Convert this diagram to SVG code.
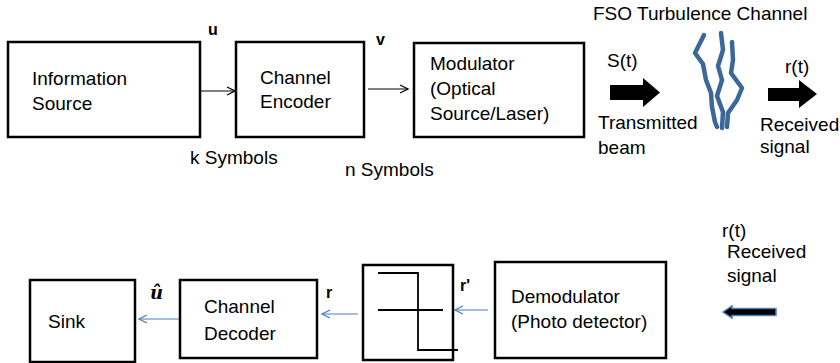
<svg xmlns="http://www.w3.org/2000/svg" width="840" height="363" viewBox="0 0 840 363">
  <defs>
    <style>
      .box { fill: #ffffff; stroke: #000000; stroke-width: 2.5; }
      .lbl { font-family: "Liberation Sans", Arial, sans-serif; font-size: 19px; fill: #000000; }
      .sym { font-family: "Liberation Sans", Arial, sans-serif; font-size: 16px; font-weight: bold; fill: #000000; }
      .wire { fill: none; stroke: #000000; stroke-width: 1.2; }
      .wireb { fill: none; stroke: #4a7fc0; stroke-width: 1.2; }
      .wave { fill: none; stroke: #3b6898; stroke-width: 4.5; stroke-linecap: round; stroke-linejoin: round; }
      .q { fill: none; stroke: #000000; stroke-width: 1.8; }
    </style>
    <marker id="open-k" markerWidth="10" markerHeight="10" refX="9" refY="5" orient="auto" markerUnits="userSpaceOnUse">
      <path d="M1,1 L9,5 L1,9" fill="none" stroke="#000000" stroke-width="1.2"/>
    </marker>
    <marker id="open-b" markerWidth="10" markerHeight="10" refX="9" refY="5" orient="auto" markerUnits="userSpaceOnUse">
      <path d="M1,1 L9,5 L1,9" fill="none" stroke="#4a7fc0" stroke-width="1.2"/>
    </marker>
  </defs>

  <rect width="840" height="363" fill="#ffffff"/>

  <!-- transmitter chain -->
  <g id="info-source">
    <rect class="box" x="8" y="42" width="192" height="95"/>
    <text class="lbl" x="32" y="85">Information</text>
    <text class="lbl" x="32" y="110">Source</text>
  </g>
  <g id="channel-encoder">
    <rect class="box" x="236" y="42" width="128" height="95"/>
    <text class="lbl" x="260" y="84">Channel</text>
    <text class="lbl" x="260" y="108">Encoder</text>
  </g>
  <g id="modulator">
    <rect class="box" x="414" y="43" width="170" height="94"/>
    <text class="lbl" x="430" y="70">Modulator</text>
    <text class="lbl" x="430" y="95">(Optical</text>
    <text class="lbl" x="430" y="120">Source/Laser)</text>
  </g>

  <!-- free-space turbulence -->
  <g id="fso-channel">
    <text class="lbl" x="593" y="20">FSO Turbulence Channel</text>
    <path class="wave" d="M704,35 L695,53 L703,64 L706,80 L711,93 L712,107 L715,122 L717,127"/>
    <path class="wave" d="M721,33 L723,50 L718,66 L722,80 L717,96 L723,112 L722,128"/>
    <path class="wave" d="M732,42 L733,60 L731,73 L742,88 L737,100 L728,113 L727,127"/>
  </g>
  <g id="tx-beam">
    <polygon points="610,85 643,85 643,78 660,92.5 643,107 643,100 610,100" fill="#000000"/>
    <text class="lbl" x="607" y="67">S(t)</text>
    <text class="lbl" x="598" y="129">Transmitted</text>
    <text class="lbl" x="598" y="154">beam</text>
  </g>
  <g id="rx-beam">
    <polygon points="768,88 799,88 799,80 817,94 799,108 799,101 768,101" fill="#000000"/>
    <text class="lbl" x="785" y="73">r(t)</text>
    <text class="lbl" x="760" y="131">Received</text>
    <text class="lbl" x="760" y="153">signal</text>
  </g>

  <!-- receiver chain -->
  <g id="sink">
    <rect class="box" x="30" y="280" width="105" height="82"/>
    <text class="lbl" x="48" y="328">Sink</text>
  </g>
  <g id="channel-decoder">
    <rect class="box" x="180" y="280" width="137" height="78"/>
    <text class="lbl" x="204" y="313">Channel</text>
    <text class="lbl" x="204" y="340">Decoder</text>
  </g>
  <g id="threshold">
    <rect class="box" x="363" y="265" width="90" height="95"/>
    <path class="q" d="M378,273 H418 V350 H458"/>
    <path class="q" d="M378,310 H443"/>
  </g>
  <g id="demodulator">
    <rect class="box" x="495" y="262" width="171" height="96"/>
    <text class="lbl" x="511" y="303">Demodulator</text>
    <text class="lbl" x="511" y="328">(Photo detector)</text>
  </g>
  <g id="rx-input">
    <text class="lbl" x="722" y="237">r(t)</text>
    <text class="lbl" x="727" y="258">Received</text>
    <text class="lbl" x="727" y="282">signal</text>
    <polygon points="723,312 732,306 732,308.5 776,308.5 776,315.5 732,315.5 732,318" fill="#000000" stroke="#4f7fb8" stroke-width="1.5"/>
  </g>

  <!-- connectors -->
  <g id="connectors">
    <line class="wire" x1="200" y1="91" x2="235" y2="91" marker-end="url(#open-k)"/>
    <line class="wire" x1="368" y1="89" x2="408" y2="89" marker-end="url(#open-k)"/>
    <line class="wireb" x1="488" y1="310" x2="455" y2="310" marker-end="url(#open-b)"/>
    <line class="wireb" x1="358" y1="314" x2="322" y2="314" marker-end="url(#open-b)"/>
    <line class="wireb" x1="179" y1="319" x2="139" y2="319" marker-end="url(#open-b)"/>
  </g>

  <!-- signal labels -->
  <g id="signal-labels">
    <text class="sym" x="208" y="35">u</text>
    <text class="sym" x="376" y="45">v</text>
    <text class="lbl" x="190" y="164">k Symbols</text>
    <text class="lbl" x="345" y="176">n Symbols</text>
    <text class="sym" x="326" y="298">r</text>
    <text class="sym" x="460" y="291">r'</text>
    <text x="150" y="299" font-family="'DejaVu Serif', 'Liberation Serif', serif" font-size="18" font-weight="bold" font-style="italic" fill="#000000">û</text>
  </g>
</svg>
